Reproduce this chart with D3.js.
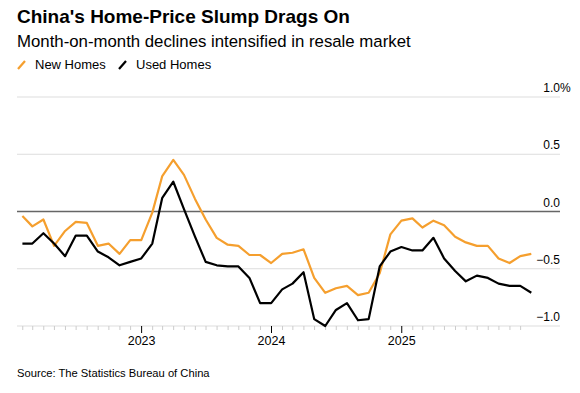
<!DOCTYPE html>
<html>
<head>
<meta charset="utf-8">
<script src="https://cdn.jsdelivr.net/npm/d3@7"></script>
<style>
  body { margin: 0; background: #fff; }
  svg { font-family: "Liberation Sans", Arial, sans-serif; }
</style>
</head>
<body>
<div id="chart"></div>
<script>
// monthly change in home prices, Jan 2022 - Dec 2025
const months = [
  "2022-01","2022-02","2022-03","2022-04","2022-05","2022-06","2022-07","2022-08","2022-09","2022-10","2022-11","2022-12",
  "2023-01","2023-02","2023-03","2023-04","2023-05","2023-06","2023-07","2023-08","2023-09","2023-10","2023-11","2023-12",
  "2024-01","2024-02","2024-03","2024-04","2024-05","2024-06","2024-07","2024-08","2024-09","2024-10","2024-11","2024-12",
  "2025-01","2025-02","2025-03","2025-04","2025-05","2025-06","2025-07","2025-08","2025-09","2025-10","2025-11","2025-12"
];
const newHomes = [
  -0.04, -0.13, -0.07, -0.30, -0.17, -0.09, -0.10, -0.30, -0.28, -0.37, -0.25, -0.25,
  -0.01, 0.31, 0.45, 0.32, 0.11, -0.07, -0.23, -0.29, -0.30, -0.38, -0.38, -0.45,
  -0.37, -0.36, -0.33, -0.58, -0.71, -0.67, -0.65, -0.73, -0.71, -0.54, -0.20, -0.08,
  -0.06, -0.14, -0.08, -0.12, -0.22, -0.27, -0.30, -0.30, -0.41, -0.45, -0.39, -0.37
];
const usedHomes = [
  -0.28, -0.28, -0.19, -0.28, -0.39, -0.21, -0.21, -0.35, -0.40, -0.47, -0.44, -0.41,
  -0.28, 0.12, 0.26, 0.02, -0.22, -0.44, -0.47, -0.48, -0.48, -0.58, -0.80, -0.80,
  -0.68, -0.63, -0.53, -0.94, -1.00, -0.86, -0.80, -0.95, -0.94, -0.48, -0.35, -0.31,
  -0.34, -0.34, -0.23, -0.41, -0.52, -0.61, -0.56, -0.58, -0.63, -0.65, -0.65, -0.71
];
const yTicks = [1.0, 0.5, 0.0, -0.5, -1.0];
const yearTicks = [2023, 2024, 2025];

const W = 580, H = 393;
const plot = {left: 17, right: 560, top: 97, bottom: 326};

const svg = d3.select("#chart").append("svg")
    .attr("width", W).attr("height", H);

const parse = d3.timeParse("%Y-%m");
// values are plotted at month end
const dates = months.map(m => d3.timeDay.offset(d3.timeMonth.offset(parse(m), 1), -1));

const x = d3.scaleTime()
    .domain([dates[0], dates[dates.length - 1]])
    .range([22.4, 531.3]);

const y = d3.scaleLinear()
    .domain([-1, 1])
    .range([plot.bottom, plot.top]);

// titles
svg.append("text").attr("x", 17).attr("y", 23)
    .attr("font-size", "19px").attr("font-weight", "bold").attr("fill", "#000")
    .text("China's Home-Price Slump Drags On");
svg.append("text").attr("x", 17).attr("y", 47)
    .attr("font-size", "16.8px").attr("fill", "#000")
    .text("Month-on-month declines intensified in resale market");

// legend
const legendItems = [
  {name: "New Homes", color: "#f59f2e", x: 17},
  {name: "Used Homes", color: "#000", x: 118}
];
legendItems.forEach(d => {
  svg.append("line")
      .attr("x1", d.x + 1).attr("y1", 69)
      .attr("x2", d.x + 8).attr("y2", 61)
      .attr("stroke", d.color).attr("stroke-width", 2.2);
  svg.append("text").attr("x", d.x + 18).attr("y", 69)
      .attr("font-size", "13px").attr("fill", "#000")
      .text(d.name);
});

// gridlines + y labels
yTicks.forEach(t => {
  svg.append("line")
      .attr("x1", plot.left).attr("x2", plot.right)
      .attr("y1", y(t)).attr("y2", y(t))
      .attr("stroke", t === 0 ? "#666" : "#ddd")
      .attr("stroke-width", t === 0 ? 1.3 : 1.2);
  svg.append("text")
      .attr("x", plot.right).attr("y", y(t) - 5)
      .attr("text-anchor", "end")
      .attr("font-size", "12px").attr("fill", "#000")
      .text(d3.format(".1f")(t));
});
svg.append("text")
    .attr("x", plot.right).attr("y", y(1) - 5)
    .attr("font-size", "12px").attr("fill", "#000")
    .text("%");

// x axis ticks
const monthTicks = d3.timeMonth.range(new Date(2022, 1, 1), new Date(2026, 0, 1));
svg.append("g").selectAll("line")
    .data(monthTicks.filter(d => d.getMonth() !== 0))
    .join("line")
    .attr("x1", d => x(d)).attr("x2", d => x(d))
    .attr("y1", plot.bottom).attr("y2", plot.bottom + 4)
    .attr("stroke", "#ccc").attr("stroke-width", 1);

yearTicks.forEach(yr => {
  const d = new Date(yr, 0, 1);
  svg.append("line")
      .attr("x1", x(d)).attr("x2", x(d))
      .attr("y1", plot.bottom).attr("y2", plot.bottom + 7)
      .attr("stroke", "#000").attr("stroke-width", 1);
  svg.append("text")
      .attr("x", x(d)).attr("y", 345)
      .attr("text-anchor", "middle")
      .attr("font-size", "12.5px").attr("fill", "#000")
      .text(yr);
});

// lines
const line = d3.line()
    .x((d, i) => x(dates[i]))
    .y(d => y(d));

svg.append("path").datum(newHomes)
    .attr("d", line)
    .attr("fill", "none")
    .attr("stroke", "#f59f2e")
    .attr("stroke-width", 2.2)
    .attr("stroke-linejoin", "round");

svg.append("path").datum(usedHomes)
    .attr("d", line)
    .attr("fill", "none")
    .attr("stroke", "#000")
    .attr("stroke-width", 2.2)
    .attr("stroke-linejoin", "round");

// source
svg.append("text").attr("x", 17).attr("y", 377)
    .attr("font-size", "11.2px").attr("fill", "#000")
    .text("Source: The Statistics Bureau of China");
</script>
</body>
</html>
